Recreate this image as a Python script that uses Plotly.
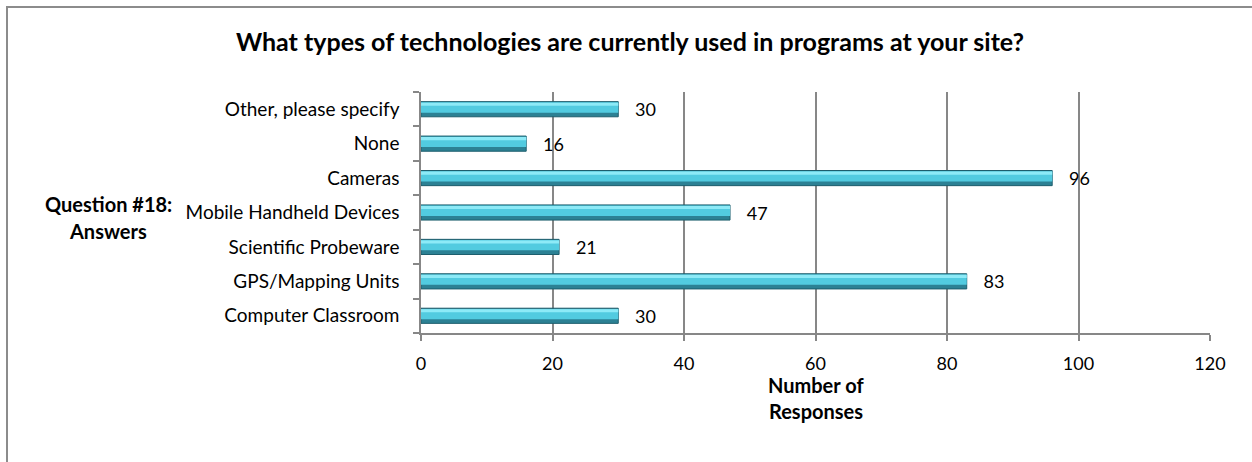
import plotly.graph_objects as go

categories = ["Computer Classroom", "GPS/Mapping Units", "Scientific Probeware",
              "Mobile Handheld Devices", "Cameras", "None", "Other, please specify"]
values = [30, 83, 21, 47, 96, 16, 30]
x_ticks = [0, 20, 40, 60, 80, 100, 120]

W, H = 1252, 462
L, R, T, B = 421, 42, 92, 129
pw, ph = W - L - R, H - T - B

def px_to_paper_x(px):
    return (px - L) / pw

def px_to_paper_y(py):
    return (H - B - py) / ph

font_family = "Lato, 'Open Sans', sans-serif"
grid = "#878787"

fig = go.Figure()
# dark base of the bevelled bar
fig.add_trace(go.Bar(
    y=categories, x=values, orientation="h",
    width=0.44, offset=-0.22,
    marker=dict(color="#2C8194", line=dict(color="#1D5E6D", width=1)),
    text=["   " + str(v) for v in values],
    textposition="outside", constraintext="none",
    textfont=dict(size=18, color="#000000", family=font_family),
    cliponaxis=False, showlegend=False,
))
# main body
fig.add_trace(go.Bar(
    y=categories, x=values, orientation="h",
    width=0.30, offset=-0.10,
    marker=dict(color="#52CBE0", line=dict(width=0)),
    showlegend=False, hoverinfo="skip",
))
# highlight strip
fig.add_trace(go.Bar(
    y=categories, x=values, orientation="h",
    width=0.09, offset=0.10,
    marker=dict(color="#8DEAF7", line=dict(width=0)),
    showlegend=False, hoverinfo="skip",
))

fig.update_layout(
    width=W, height=H,
    margin=dict(l=L, r=R, t=T, b=B),
    paper_bgcolor="white", plot_bgcolor="white",
    barmode="overlay",
    font=dict(family=font_family, size=18, color="#000000"),
    title=dict(text="<b>What types of technologies are currently used in programs at your site?</b>",
               x=630 / W, xref="container", xanchor="center",
               y=1 - 42 / H, yref="container", yanchor="middle",
               font=dict(size=25, family=font_family, color="#000000")),
    xaxis=dict(range=[0, 120], tickvals=x_ticks, showgrid=True, gridcolor=grid, gridwidth=1.5,
               showline=True, linecolor=grid, linewidth=1.5, ticks="outside", ticklen=6,
               tickcolor=grid, tickwidth=1.5, tickfont=dict(size=18), zeroline=False,
               ticklabelstandoff=8),
    yaxis=dict(showline=True, linecolor=grid, linewidth=1.5, ticks="outside", ticklen=6,
               tickcolor=grid, tickwidth=1.5, tickson="boundaries", tickfont=dict(size=19),
               categoryorder="array", categoryarray=categories, ticklabelstandoff=16),
    bargap=0.56,
)

fig.add_annotation(text="<b>Number of</b>", xref="paper", yref="paper", xanchor="center",
                   x=0.5, y=px_to_paper_y(399), showarrow=False, font=dict(size=20))
fig.add_annotation(text="<b>Responses</b>", xref="paper", yref="paper", xanchor="center",
                   x=0.5, y=px_to_paper_y(425), showarrow=False, font=dict(size=20))
fig.add_annotation(text="<b>Question #18:</b>", xref="paper", yref="paper", xanchor="center",
                   x=px_to_paper_x(108), y=px_to_paper_y(204), showarrow=False, font=dict(size=20))
fig.add_annotation(text="<b>Answers</b>", xref="paper", yref="paper", xanchor="center",
                   x=px_to_paper_x(108), y=px_to_paper_y(231), showarrow=False, font=dict(size=20))

fig.add_shape(type="rect", xref="paper", yref="paper",
              x0=px_to_paper_x(7), y0=px_to_paper_y(520), x1=px_to_paper_x(1300), y1=px_to_paper_y(7),
              line=dict(color="#8C8C8C", width=2), fillcolor="rgba(0,0,0,0)", layer="above")

fig.write_html("out.html", config={"displayModeBar": False},
               post_script="document.body.style.margin='0';")
